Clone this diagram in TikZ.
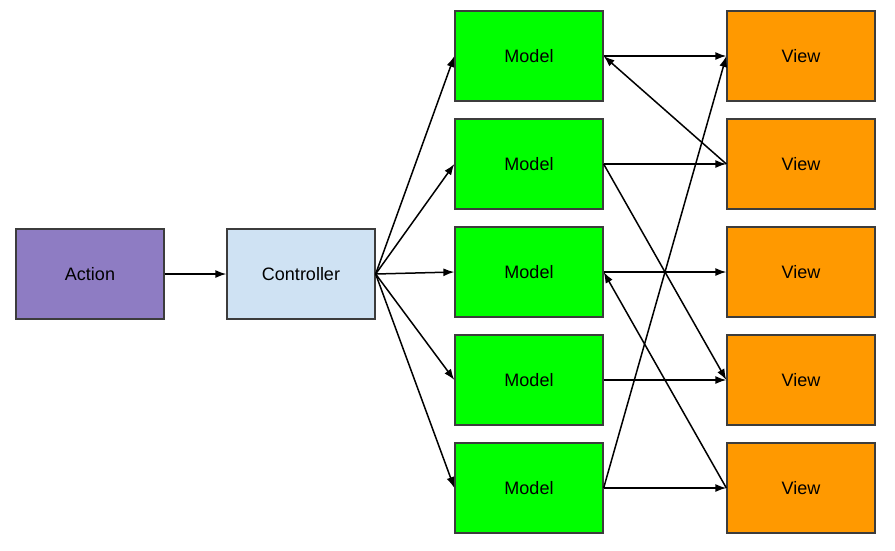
\documentclass[tikz,border=0pt]{standalone}
\usepackage{fontspec}
\setmainfont{Liberation Sans}
\usetikzlibrary{arrows.meta}

\definecolor{actioncol}{HTML}{8E7CC3}
\definecolor{ctrlcol}{HTML}{CFE2F3}
\definecolor{modelcol}{HTML}{00FF00}
\definecolor{viewcol}{HTML}{FF9900}
\definecolor{edgecol}{HTML}{3C3C3C}

\begin{document}
\begin{tikzpicture}[x=1pt, y=-1pt]
                \tikzstyle{box}=[rectangle, draw=edgecol, line width=1.3pt, minimum width=148pt, minimum height=90pt, inner sep=0pt, font=\fontsize{18}{20}\selectfont]
                \tikzstyle{conn}=[line width=1.5pt, -{Latex[length=11pt, width=8pt]}]

                \useasboundingbox (0,0) rectangle (895,550);

                \node[box, fill=actioncol] (act) at (90,274) {Action};
                \node[box, fill=ctrlcol]  (ctrl) at (301,274) {Controller};
                \foreach \i/\y in {1/56, 2/164, 3/272, 4/380, 5/488} {
                    \node[box, fill=modelcol] (m\i) at (529,\y) {Model};
                    \node[box, fill=viewcol]  (v\i) at (801,\y) {View};
                }

                \draw[conn] (act) -- (ctrl);
                \foreach \i in {1,...,5}
                    \draw[conn] (ctrl.east) -- (m\i.west);
                \draw[conn] (m1.east) -- (v1.west);
                \draw[conn] (v2.west) -- (m1.east);
                \draw[conn] (m2.east) -- (v2.west);
                \draw[conn] (m2.east) -- (v4.west);
                \draw[conn] (m3.east) -- (v3.west);
                \draw[conn] (v5.west) -- (m3.east);
                \draw[conn] (m4.east) -- (v4.west);
                \draw[conn] (m5.east) -- (v1.west);
                \draw[conn] (m5.east) -- (v5.west);
            \end{tikzpicture}
\end{document}
